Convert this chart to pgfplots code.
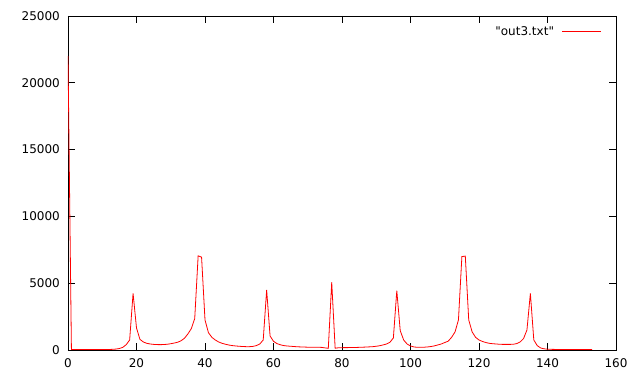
\documentclass[border=0pt]{standalone}
\usepackage{pgfplots}
\pgfplotsset{compat=1.18}
\usepackage{pgfplotstable}
\usepackage{fontspec}
\setmainfont{DejaVu Sans}
\pgfplotstableread{
x y
0 22000
1 30
2 30
3 30
4 30
5 30
6 30
7 30
8 30
9 30
10 30
11 35
12 40
13 50
14 70
15 110
16 200
17 400
18 750
19 4240
20 1650
21 800
22 600
23 500
24 450
25 420
26 405
27 400
28 410
29 430
30 470
31 520
32 580
33 690
34 880
35 1200
36 1600
37 2350
38 7050
39 6950
40 2250
41 1300
42 950
43 750
44 600
45 500
46 430
47 370
48 330
49 300
50 280
51 260
52 250
53 250
54 270
55 330
56 450
57 750
58 4490
59 1050
60 650
61 480
62 390
63 330
64 300
65 280
66 260
67 240
68 230
69 220
70 210
71 205
72 200
73 210
74 195
75 160
76 125
77 5070
78 130
79 170
80 175
81 178
82 180
83 185
84 190
85 200
86 210
87 220
88 235
89 250
90 280
91 320
92 380
93 450
94 580
95 900
96 4440
97 1450
98 750
99 450
100 300
101 230
102 200
103 200
104 210
105 230
106 260
107 310
108 380
109 450
110 560
111 660
112 950
113 1350
114 2250
115 6990
116 7030
117 2250
118 1350
119 950
120 750
121 640
122 560
123 500
124 470
125 450
126 430
127 420
128 420
129 420
130 430
131 480
132 600
133 850
134 1500
135 4240
136 750
137 330
138 150
139 90
140 60
141 50
142 45
143 40
144 40
145 35
146 35
147 30
148 30
149 30
150 30
151 30
152 30
153 30
}\datatable
\begin{document}
\fontsize{12bp}{14bp}\selectfont
\begin{tikzpicture}
\path[use as bounding box] (-68bp,-34bp) rectangle (572bp,350bp);
\begin{axis}[
  scale only axis,
  width=548bp, height=334bp,
  xmin=0, xmax=160, ymin=0, ymax=25000,
  xtick={0,20,...,160},
  ytick={0,5000,...,25000},
  scaled y ticks=false,
  /pgf/number format/assume math mode=true,
  /pgf/number format/set thousands separator={},
  tick align=inside,
  major tick length=7bp,
  axis line style={black, line width=0.8bp},
  tick style={black, line width=0.8bp},
  every tick label/.append style={font=\fontsize{12bp}{14bp}\selectfont},
  xticklabel style={yshift=-4bp},
  yticklabel style={xshift=-4bp},
  legend style={at={(rel axis cs:1,1)}, anchor=north east, xshift=-11bp, yshift=-6bp,
    draw=none, fill=none, font=\fontsize{12bp}{14bp}\selectfont},
  legend cell align=right,
  legend plot pos=right,
  legend image code/.code={\path (0bp,0bp); \draw[#1] (6bp,0bp) -- (45bp,0bp);},
]
\addplot[red, line width=0.8bp, mark=none] table[x=x, y=y] {\datatable};
\addlegendentry{\textquotedbl out3.txt\textquotedbl}
\end{axis}
\end{tikzpicture}
\end{document}
